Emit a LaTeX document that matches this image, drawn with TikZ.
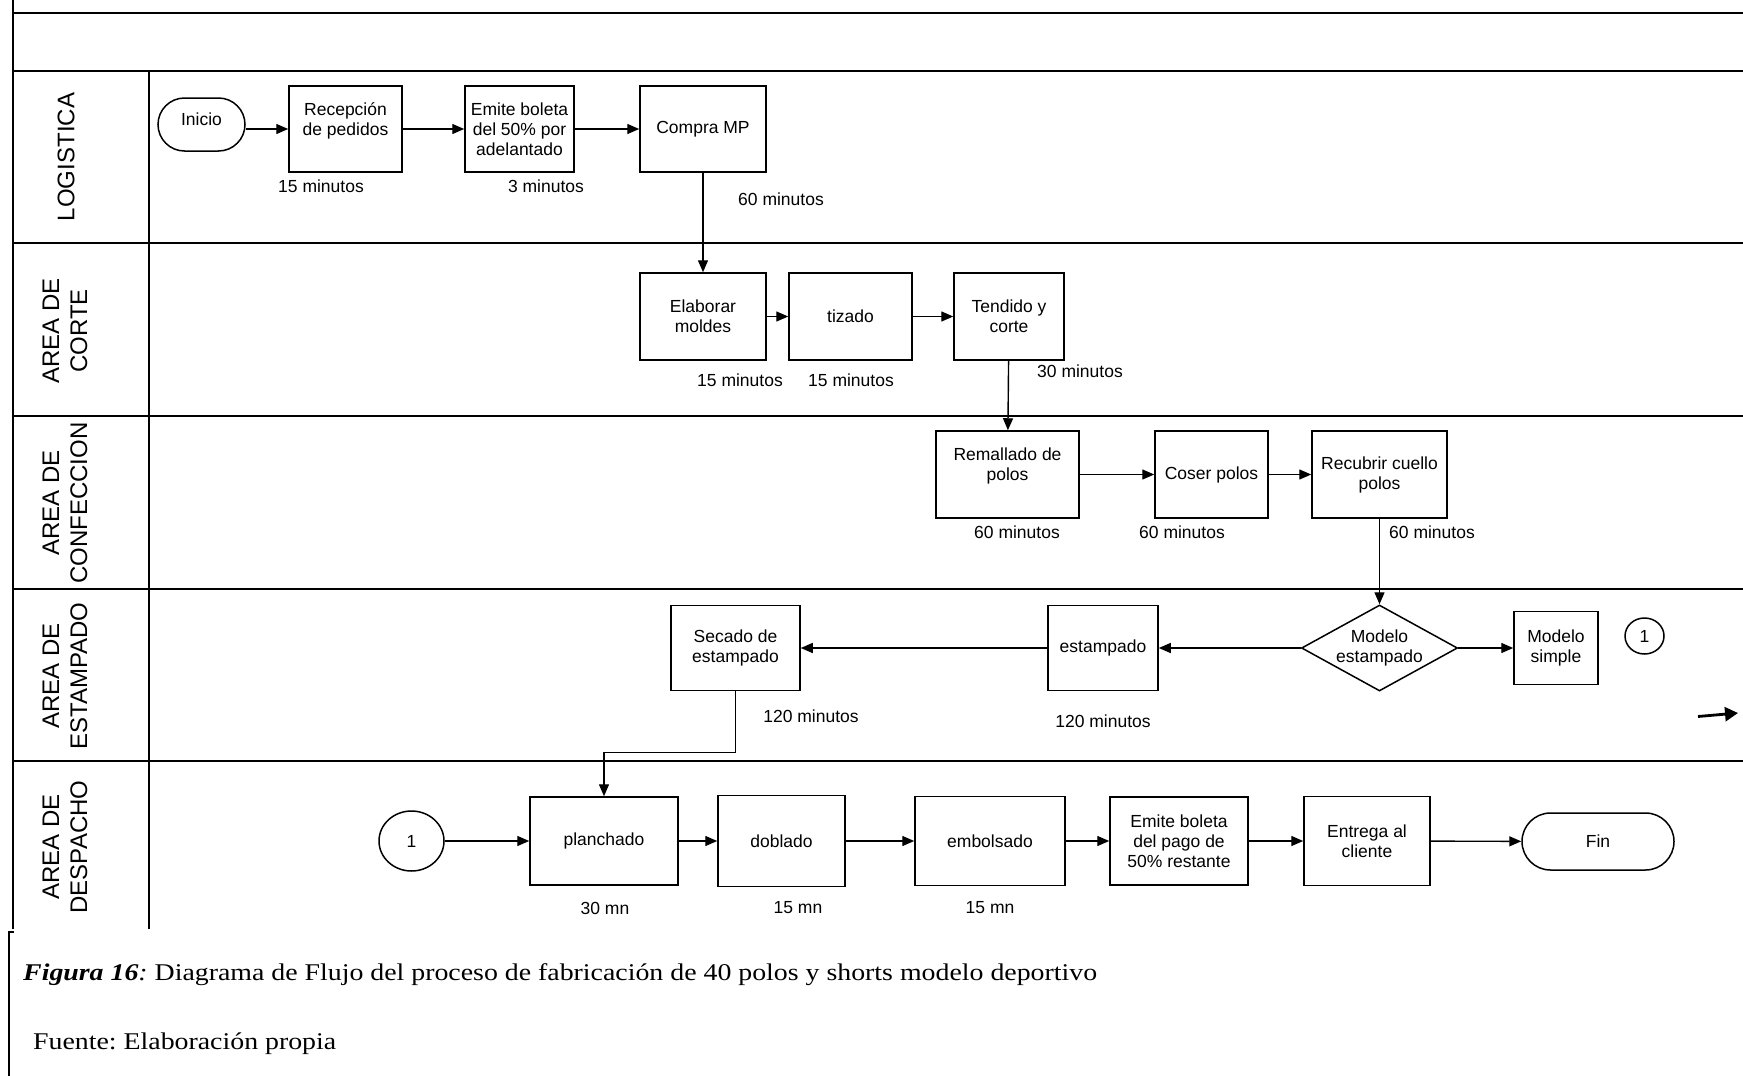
\documentclass[tikz,border=0pt]{standalone}
\usepackage{fontspec}
\setmainfont{Liberation Serif}
\newfontfamily\arialf{Liberation Sans}
\newfontfamily\capfont[FakeStretch=1.16]{Liberation Serif}
\usetikzlibrary{arrows.meta,shapes.geometric,shapes.misc}
\frenchspacing
\begin{document}
\begin{tikzpicture}[x=1pt,y=-1pt,
  txt/.style={font=\arialf\fontsize{17.5}{20}\selectfont},
  box/.style={txt,draw,line width=1.5pt,rectangle,inner sep=2pt,align=center},
  term/.style={txt,draw,line width=1.5pt,rounded rectangle,inner sep=2pt,align=center},
  dec/.style={txt,draw,line width=1.5pt,diamond,inner sep=0pt,align=center},
  conn/.style={txt,draw,line width=1.5pt,ellipse,inner sep=0pt},
  lab/.style={txt,inner sep=0pt},
  lane/.style={font=\arialf\fontsize{24}{28}\selectfont,rotate=90,align=center,inner sep=0pt},
  flow/.style={line width=1.4pt,-{Triangle[length=12pt,width=10pt]}},
  pool/.style={line width=2.2pt},
  captxt/.style={anchor=west,inner sep=0pt,font=\capfont\fontsize{24}{28}\selectfont}]
\useasboundingbox (0,0) rectangle (1743,1076);
\fill[white] (0,0) rectangle (1743,1076);

% pool frame
\draw[pool] (13,0) -- (13,929);
\draw[pool] (13,13) -- (1743,13);
\draw[pool] (13,71) -- (1743,71);
\draw[pool] (13,243) -- (1743,243);
\draw[pool] (13,416) -- (1743,416);
\draw[pool] (13,589) -- (1743,589);
\draw[pool] (13,761) -- (1743,761);
\draw[line width=1.3pt] (149,71) -- (149,929);

% lane labels
\node[lane] (l1) at (66,157) {LOGISTICA};
\node[lane] (l2) at (65,331) {AREA DE\\CORTE};
\node[lane] (l3) at (65,503) {AREA DE\\CONFECCION};
\node[lane] (l4) at (65,676) {AREA DE\\ESTAMPADO};
\node[lane] (l5) at (65,847) {AREA DE\\DESPACHO};

% LOGISTICA
\node[term,minimum width=91pt,minimum height=53pt] (inicio) at (201.5,124.5) {\raisebox{10pt}{Inicio}};
\node[box,minimum width=113pt,minimum height=86pt] (recep) at (345.5,129) {Recepción\\de pedidos\\~};
\node[box,minimum width=109pt,minimum height=86pt] (emite1) at (519.5,129) {Emite boleta\\del 50\% por\\adelantado};
\node[box,minimum width=126pt,minimum height=86pt] (compra) at (703,129) {Compra MP};
\node[lab] (t1) at (321,186) {15 minutos};
\node[lab] (t2) at (546,186) {3 minutos};
\node[lab] (t3) at (781,199) {60 minutos};

% CORTE
\node[box,minimum width=126pt,minimum height=87pt] (elab) at (703,316.5) {Elaborar\\moldes};
\node[box,minimum width=123pt,minimum height=87pt] (tiz) at (850.5,316.5) {tizado};
\node[box,minimum width=110pt,minimum height=87pt] (tend) at (1009,316.5) {Tendido y\\corte};
\node[lab] (t4) at (740,380) {15 minutos};
\node[lab] (t5) at (851,380) {15 minutos};
\node[lab] (t6) at (1080,371) {30 minutos};

% CONFECCION
\node[box,minimum width=143pt,minimum height=87pt] (rem) at (1007.5,474.5) {Remallado de\\polos\\~};
\node[box,minimum width=113pt,minimum height=87pt] (coser) at (1211.5,474.5) {Coser polos};
\node[box,minimum width=135pt,minimum height=87pt] (recub) at (1379.5,474.5) {Recubrir cuello\\polos};
\node[lab] (t7) at (1017,532) {60 minutos};
\node[lab] (t8) at (1182,532) {60 minutos};
\node[lab] (t9) at (1432,532) {60 minutos};

% ESTAMPADO
\node[dec,aspect=1.81,minimum width=156pt,minimum height=86pt] (dec) at (1379.5,648) {Modelo\\estampado};
\node[box,minimum width=84pt,minimum height=73pt] (simple) at (1556,648) {Modelo\\simple};
\node[conn,minimum width=39pt,minimum height=36pt] (c1a) at (1644.5,636) {1};
\node[box,minimum width=110pt,minimum height=85pt] (estamp) at (1103,648) {estampado};
\node[box,minimum width=129pt,minimum height=85pt] (secado) at (735.5,648) {Secado de\\estampado};
\node[lab] (t10) at (811,716) {120 minutos};
\node[lab] (t11) at (1103,721) {120 minutos};
\coordinate (ra) at (1698,716.5);
\coordinate (rb) at (1738,713);

% DESPACHO
\node[conn,minimum width=65pt,minimum height=60pt] (c1b) at (411.5,841) {1};
\node[box,minimum width=148pt,minimum height=88pt] (planch) at (604,841) {planchado};
\node[box,minimum width=127pt,minimum height=91pt] (dobl) at (781.5,841) {doblado};
\node[box,minimum width=150pt,minimum height=89pt] (embol) at (990,841) {embolsado};
\node[box,minimum width=138pt,minimum height=88pt] (emite2) at (1179,841) {Emite boleta\\del pago de\\50\% restante};
\node[box,minimum width=126pt,minimum height=89pt] (entrega) at (1367,841) {Entrega al\\cliente};
\node[term,minimum width=156pt,minimum height=57pt] (fin) at (1598,841.5) {Fin};
\node[lab] (t12) at (605,908) {30 mn};
\node[lab] (t13) at (798,908) {15 mn};
\node[lab] (t14) at (990,908) {15 mn};

% connectors
\draw[flow] (inicio.east |- recep.west) -- (recep.west);
\draw[flow] (recep) -- (emite1);
\draw[flow] (emite1) -- (compra);
\draw[flow] (compra) -- (elab);
\draw[flow] (elab) -- (tiz);
\draw[flow] (tiz) -- (tend);
\draw[flow] (tend) -- (rem);
\draw[flow] (rem) -- (coser);
\draw[flow] (coser) -- (recub);
\draw[flow] (recub) -- (dec);
\draw[flow] (dec) -- (simple);
\draw[flow] (dec) -- (estamp);
\draw[flow] (estamp) -- (secado);
\draw[flow] (secado.south) -- ++(0,61) -| (planch.north);
\draw[flow] (c1b) -- (planch);
\draw[flow] (planch) -- (dobl);
\draw[flow] (dobl) -- (embol);
\draw[flow] (embol) -- (emite2);
\draw[flow] (emite2) -- (entrega);
\draw[flow] (entrega) -- (fin);
\draw[line width=2.8pt,-{Triangle[length=13pt,width=14pt]}] (ra) -- (rb);

% caption
\draw[line width=1.5pt] (14,932) -- (9,932) -- (9,1076);
\node[captxt] (cap) at (23,975)
  {\textbf{\textit{Figura 16}}\textit{:} Diagrama de Flujo del proceso de fabricación de 40 polos y shorts modelo deportivo};
\node[captxt] (src) at (33,1044) {Fuente: Elaboración propia};
\end{tikzpicture}
\end{document}
